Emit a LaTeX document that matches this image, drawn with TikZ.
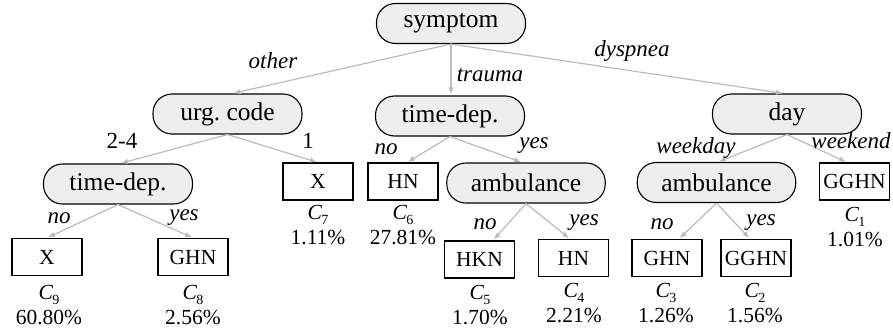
\documentclass[tikz,border=0pt]{standalone}
\usepackage{fontspec}
\setmainfont{Liberation Serif}
\usetikzlibrary{arrows.meta}
\definecolor{nodefill}{HTML}{EEEEEE}
\definecolor{edgegray}{HTML}{BBBBBB}
\newcommand{\clab}[2]{{\itshape C}\kern-0.5pt\raisebox{-5pt}{\fontsize{14}{14}\selectfont #1}\\#2}
\tikzset{
  inner/.style={draw=black, line width=1.1pt, fill=nodefill, rounded corners=19pt,
    minimum width=149pt, minimum height=40pt, inner xsep=24pt, inner ysep=0pt,
    font=\fontsize{25.5}{28}\selectfont},
  leaf/.style={draw=black, line width=1.1pt, fill=white, minimum width=70pt,
    minimum height=37pt, inner sep=2pt, font=\fontsize{21.5}{24}\selectfont},
  elabel/.style={font=\fontsize{23}{26}\selectfont\itshape, inner sep=0pt, anchor=base},
  nlabel/.style={font=\fontsize{23}{26}\selectfont, inner sep=0pt, anchor=base},
  caption/.style={font=\fontsize{21.5}{25}\selectfont, align=center, inner sep=0pt, anchor=north},
  conn/.style={draw=edgegray, line width=1.2pt, shorten >=1pt, -{Latex[length=7pt,width=5.5pt]}},
}
\begin{document}
\begin{tikzpicture}[x=1pt,y=-1pt]
\useasboundingbox (0,0) rectangle (893,332);
% inner nodes
\node[inner] (symptom) at (451,23.5) {symptom};
\node[inner] (urg) at (227.5,114) {urg.\ code};
\node[inner] (tdm) at (450,116) {time-dep.};
\node[inner] (day) at (787,114) {day};
\node[inner] (tdl) at (118,184) {time-dep.};
\node[inner] (ambm) at (526,183) {ambulance};
\node[inner] (ambr) at (716.5,182.5) {ambulance};
% leaves
\node[leaf] (c9) at (47,257) {X};
\node[leaf] (c8) at (193,257) {GHN};
\node[leaf] (c7) at (318,181.5) {X};
\node[leaf] (c6) at (403,181.5) {HN};
\node[leaf] (c5) at (479.5,259.5) {HKN};
\node[leaf] (c4) at (573.5,258) {HN};
\node[leaf] (c3) at (667,258) {GHN};
\node[leaf] (c2) at (756,258) {GGHN};
\node[leaf] (c1) at (854.5,181.5) {GGHN};
% captions
\node[caption] (k9) at (49,285) {\clab{9}{60.80\%}};
\node[caption] (k8) at (193,285) {\clab{8}{2.56\%}};
\node[caption] (k7) at (318,205) {\clab{7}{1.11\%}};
\node[caption] (k6) at (403,205) {\clab{6}{27.81\%}};
\node[caption] (k5) at (480,285) {\clab{5}{1.70\%}};
\node[caption] (k4) at (574,283) {\clab{4}{2.21\%}};
\node[caption] (k3) at (666,283) {\clab{3}{1.26\%}};
\node[caption] (k2) at (755,283) {\clab{2}{1.56\%}};
\node[caption] (k1) at (855,207) {\clab{1}{1.01\%}};
% connectors
\draw[conn] (symptom.south) -- ([xshift=5pt]urg.north);
\draw[conn] (symptom.south) -- (tdm.north -| symptom.south);
\draw[conn] (symptom.south) -- ([xshift=-3pt]day.north);
\draw[conn] (urg.south) -- ([xshift=2pt]tdl.north);
\draw[conn] (urg.south) -- (c7.north);
\draw[conn] (tdm.south) -- ([xshift=4pt]c6.north);
\draw[conn] (tdm.south) -- ([xshift=-4pt]ambm.north);
\draw[conn] (day.south) -- ([xshift=1.5pt]ambr.north);
\draw[conn] (day.south) -- ([xshift=-7.5pt]c1.north);
\draw[conn] (tdl.south) -- (c9.north);
\draw[conn] (tdl.south) -- (c8.north);
\draw[conn] (ambm.south) -- ([xshift=13.5pt]c5.north);
\draw[conn] (ambm.south) -- ([xshift=-3.5pt]c4.north);
\draw[conn] (ambr.south) -- ([xshift=12pt]c3.north);
\draw[conn] (ambr.south) -- ([xshift=-6pt]c2.north);
% edge labels
\node[elabel] (lother) at (273,68) {other};
\node[elabel] (ltrauma) at (490,81) {trauma};
\node[elabel] (ldysp) at (632,56) {dyspnea};
\node[nlabel] (l24) at (122,148) {2-4};
\node[nlabel] (l1) at (308,148) {1};
\node[elabel] (lno6) at (386,154) {no};
\node[elabel] (lyesm) at (534,148) {yes};
\node[elabel] (lwd) at (696,153) {weekday};
\node[elabel] (lwe) at (851,148) {weekend};
\node[elabel] (lnol) at (59,223) {no};
\node[elabel] (lyesl) at (184,220) {yes};
\node[elabel] (lno5) at (485,229) {no};
\node[elabel] (lyes4) at (584,225) {yes};
\node[elabel] (lno3) at (662,229) {no};
\node[elabel] (lyes2) at (761,225) {yes};
\end{tikzpicture}
\end{document}
